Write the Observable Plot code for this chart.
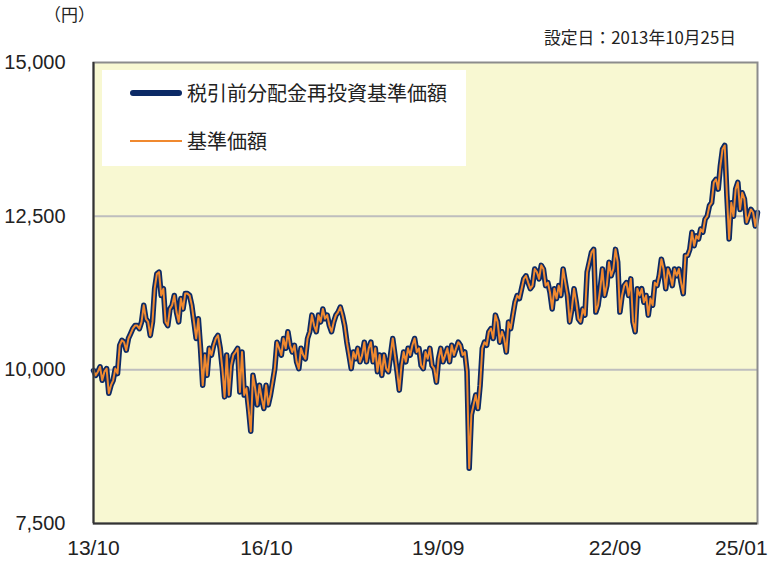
<!DOCTYPE html>
<html><head><meta charset="utf-8">
<script src="https://cdn.jsdelivr.net/npm/d3@7"></script>
<script src="https://cdn.jsdelivr.net/npm/@observablehq/plot@0.6"></script>
<style>
body{margin:0;background:#fff;}
#wrap{position:relative;width:772px;height:562px;font-family:"Noto Sans CJK JP",sans-serif;color:#222;}
#wrap svg{position:absolute;left:0;top:0;}
.unit{position:absolute;left:44px;top:2px;font-size:17px;line-height:24px;}
.setup{position:absolute;left:544px;top:25px;font-size:16.8px;line-height:24px;}
.legend{position:absolute;left:102px;top:70px;width:364px;height:96px;background:#fff;}
.item{position:absolute;left:0;height:30px;display:flex;align-items:center;font-size:20px;}
.sw{position:absolute;left:28px;width:52px;}
.lab{position:absolute;left:85px;white-space:nowrap;line-height:30px;}
</style></head>
<body>
<div id="wrap">
  <div class="unit">（円）</div>
  <div class="setup">設定日：2013年10月25日</div>
</div>
<script>
// Series: 基準価額 (NAV) sampled evenly from 2013-10-25 to 2025-01-31
const startDate = "2013-10-25";
const endDate = "2025-01-31";
const navValues = [
9990,9910,9970,10050,9830,9970,10020,9620,9750,9830,
10020,9940,10400,10480,10450,10320,10510,10590,10670,10720,
10720,10670,10780,11050,10830,10780,10560,10780,11320,11560,
11590,11210,11320,10780,10720,10990,11050,11210,10940,10780,
11160,10990,11240,11240,11210,11050,10780,10510,10830,10350,
9750,10240,9910,10350,10240,10400,10510,10560,10350,10020,
9560,10240,9590,10070,10240,10290,10350,9640,10290,9590,
9700,9370,9000,9910,9700,9430,9750,9540,9370,9750,
9430,9590,9800,10020,10450,10350,10240,10510,10350,10620,
10400,10290,10400,10130,10020,10350,10240,10180,10510,10620,
10890,10720,10620,10890,10780,10990,10830,10890,10720,10620,
10780,10890,10940,11020,10890,10720,10450,10240,10020,10290,
10180,10350,10130,10240,10450,10130,10350,10450,10130,10350,
9970,10240,9910,10240,10020,9970,10240,10510,10240,9970,
9670,10070,10290,10130,10350,10240,10400,10510,10290,10350,
10070,10020,10290,10180,10350,10070,10020,9800,10180,10350,
10130,10240,10350,10130,10400,10240,10350,10450,10400,10240,
10290,9970,8400,9270,9430,9590,9370,9750,10350,10450,
10400,10620,10670,10510,10890,10780,10450,10620,10510,10290,
10780,10670,10890,11100,11210,11160,11320,11480,11530,11420,
11320,11370,11640,11590,11480,11700,11640,11370,11420,11260,
10990,11320,11160,11370,11210,11640,11420,11210,10780,10990,
11320,11100,10830,10780,10990,10890,11590,11750,11910,11960,
10940,11050,11320,11640,11210,11370,11750,11530,11640,11960,
11750,10940,11210,11370,11420,11210,11480,10780,10620,11320,
11210,11320,11100,11210,10890,11160,11050,11420,11370,11530,
11800,11640,11320,11640,11530,11370,11640,11530,11640,11420,
11240,11860,11860,11960,12240,12020,12180,12130,12290,12240,
12450,12500,12670,12720,13050,13100,12940,13320,13590,13650,
12830,12130,12720,12500,12940,13050,12610,12880,12780,12400,
12500,12610,12560,12340,12560
];
// No distributions paid: the tax-pre reinvested NAV equals the NAV
const reinvestedValues = navValues;

const tickDates = ["2013-10-25","2016-10-01","2019-09-01","2022-09-01","2025-01-01"];
const tickLabels = ["13/10","16/10","19/09","22/09","25/01"];
const yTicks = [7500,10000,12500,15000];
const gridValues = [10000,12500];

const parse = d3.utcParse("%Y-%m-%d");
const t0 = parse(startDate), t1 = parse(endDate);
const n = navValues.length;
const dates = navValues.map((_, i) => new Date(+t0 + (t1 - t0) * i / (n - 1)));
const reinvested = reinvestedValues.map((v, i) => ({date: dates[i], v}));
const nav = navValues.map((v, i) => ({date: dates[i], v}));
const tickD = tickDates.map(parse);
const labelMap = new Map(tickD.map((d, i) => [+d, tickLabels[i]]));
const axisFont = "'Liberation Sans Narrow','Liberation Sans',Arial,sans-serif";

const chart = Plot.plot({
  width: 772, height: 562,
  marginLeft: 93, marginRight: 15, marginTop: 62, marginBottom: 39,
  style: {background: "transparent"},
  x: {type: "utc", domain: [t0, t1]},
  y: {domain: [7500, 15000]},
  marks: [
    Plot.frame({fill: "#f8f8d2"}),
    Plot.ruleY(gridValues, {stroke: "#bebebe", strokeWidth: 2}),
    Plot.lineY(reinvested, {x: "date", y: "v", stroke: "#0c2a66", strokeWidth: 5.5, strokeLinejoin: "round", strokeLinecap: "round"}),
    Plot.lineY(nav, {x: "date", y: "v", stroke: "#f0892f", strokeWidth: 2, strokeLinejoin: "round"}),
    Plot.frame({stroke: "#8c8c8c", strokeWidth: 2}),
    Plot.ruleX([t0], {stroke: "#333", strokeWidth: 2}),
    Plot.ruleY([7500], {stroke: "#333", strokeWidth: 2}),
    Plot.axisY({ticks: yTicks, tickFormat: d3.format(","), tickSize: 0, tickPadding: 28, label: null,
      fontSize: 20, fontFamily: axisFont, fill: "#222"}),
    Plot.axisX({ticks: tickD.slice(0, 4), tickFormat: d => labelMap.get(+d), tickSize: 0, tickPadding: 17, label: null,
      fontSize: 21, fontFamily: axisFont, fill: "#222"}),
    Plot.axisX({ticks: tickD.slice(4), tickFormat: d => labelMap.get(+d), tickSize: 0, tickPadding: 17, label: null,
      textAnchor: "end", dx: 15, fontSize: 21, fontFamily: axisFont, fill: "#222"})
  ]
});
const wrap = document.getElementById("wrap");
wrap.insertBefore(chart, wrap.firstChild);

// legend
const lg = document.createElement("div");
lg.className = "legend";
const items = [
  {label: "税引前分配金再投資基準価額", color: "#0c2a66", w: 6, top: 8},
  {label: "基準価額", color: "#f0892f", w: 1.5, top: 56}
];
for (const it of items) {
  const row = document.createElement("div");
  row.className = "item"; row.style.top = it.top + "px";
  const sw = document.createElement("div");
  sw.className = "sw"; sw.style.height = it.w + "px"; sw.style.background = it.color;
  sw.style.borderRadius = it.w > 2 ? (it.w / 2) + "px" : "0";
  sw.style.top = (15 - it.w / 2) + "px";
  const lab = document.createElement("div");
  lab.className = "lab"; lab.textContent = it.label;
  row.appendChild(sw); row.appendChild(lab);
  lg.appendChild(row);
}
wrap.appendChild(lg);
</script>
</body></html>
